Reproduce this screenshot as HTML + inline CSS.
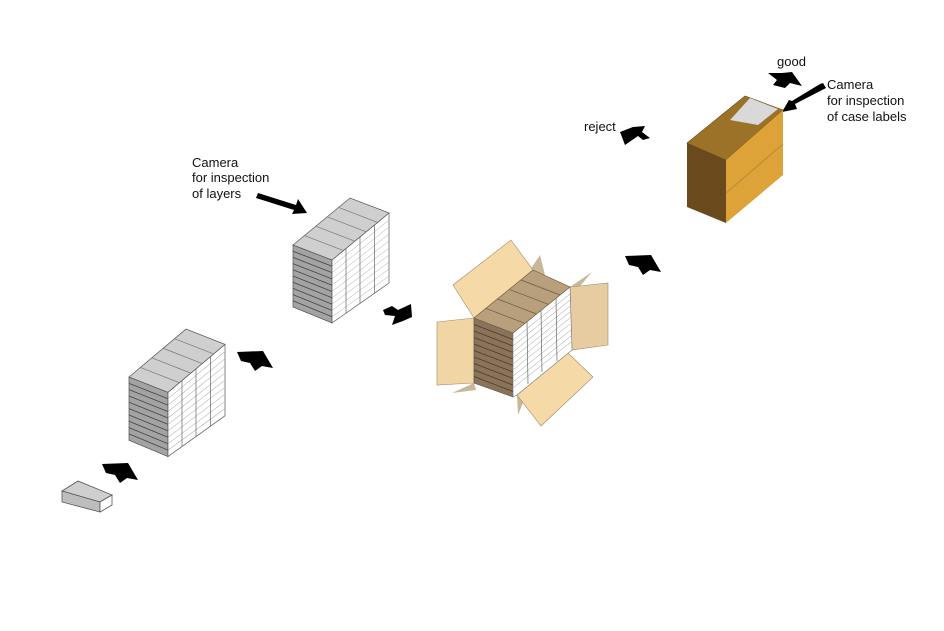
<!DOCTYPE html>
<html><head><style>
html,body{margin:0;padding:0;background:#fff;}
svg{display:block;}
text{font-family:"Liberation Sans",Arial,sans-serif;font-size:13px;fill:#111;}
</style></head><body>
<svg width="944" height="631" viewBox="0 0 944 631" xmlns="http://www.w3.org/2000/svg">
<defs>
<g id="stack">
  <polygon points="0,0 39,15 39,78 0,62" fill="#a3a3a3" stroke="#555" stroke-width="0.7"/>
  <g stroke="#444" stroke-width="0.8">
    <line x1="0" y1="6.2" x2="39" y2="21.3"/><line x1="0" y1="12.4" x2="39" y2="27.6"/>
    <line x1="0" y1="18.6" x2="39" y2="33.9"/><line x1="0" y1="24.8" x2="39" y2="40.2"/>
    <line x1="0" y1="31" x2="39" y2="46.5"/><line x1="0" y1="37.2" x2="39" y2="52.8"/>
    <line x1="0" y1="43.4" x2="39" y2="59.1"/><line x1="0" y1="49.6" x2="39" y2="65.4"/>
    <line x1="0" y1="55.8" x2="39" y2="71.7"/>
  </g>
  <polygon points="39,15 96,-32 96,38 39,78" fill="#fff" stroke="#555" stroke-width="0.7"/>
  <g stroke="#aaa" stroke-width="0.5">
    <line x1="39" y1="21.3" x2="96" y2="-25"/><line x1="39" y1="27.6" x2="96" y2="-18"/>
    <line x1="39" y1="33.9" x2="96" y2="-11"/><line x1="39" y1="40.2" x2="96" y2="-4"/>
    <line x1="39" y1="46.5" x2="96" y2="3"/><line x1="39" y1="52.8" x2="96" y2="10"/>
    <line x1="39" y1="59.1" x2="96" y2="17"/><line x1="39" y1="65.4" x2="96" y2="24"/>
    <line x1="39" y1="71.7" x2="96" y2="31"/>
  </g>
  <g stroke="#666" stroke-width="0.7">
    <line x1="53" y1="3.3" x2="53" y2="68"/><line x1="67" y1="-8.3" x2="67" y2="58"/>
    <line x1="81.5" y1="-20" x2="81.5" y2="48.5"/>
  </g>
  <polygon points="0,0 57,-47 96,-32 39,15" fill="#cfcfcf" stroke="#555" stroke-width="0.7"/>
  <g stroke="#777" stroke-width="0.7">
    <line x1="11.4" y1="-9.4" x2="50.4" y2="5.6"/><line x1="22.8" y1="-18.8" x2="61.8" y2="-3.8"/>
    <line x1="34.2" y1="-28.2" x2="73.2" y2="-13.2"/><line x1="45.6" y1="-37.6" x2="84.6" y2="-22.6"/>
  </g>
</g>
<polygon id="arr" points="0,0 26,-1 36,16 25,14 18,19 13,11 4,9"/>
</defs>

<polygon points="62,491 78,481 112,495 100,502" fill="#cfcfcf" stroke="#555" stroke-width="0.8"/>
<polygon points="62,491 100,502 100,512 62,502" fill="#bdbdbd" stroke="#555" stroke-width="0.8"/>
<polygon points="100,502 112,495 112,505 100,512" fill="#fff" stroke="#555" stroke-width="0.8"/>

<use href="#stack" transform="translate(129,377) scale(1.0,1.02)"/>
<use href="#stack" transform="translate(293,245)"/>

<g fill="#000">
  <use href="#arr" transform="translate(102,464)"/>
  <use href="#arr" transform="translate(237,352)"/>
  <use href="#arr" transform="translate(625,256)"/>
  <polygon points="383,310 392,306 398,310 411,304 412,317 403,321 392,325 395,316 385,315"/>
  <polygon points="620,132 633,127 645,126 642,132 650,138 643,140 638,136 625,145"/>
  <polygon points="768,73 782,73 792,72 802,86 790,83 785,88 773,85 777,80"/>
  <polygon points="258,193 296,205 298,199 307,213 292,214 294,210 256,198"/>
  <polygon points="823,83 826,88 795,104 797,109 782,112 789,100 792,101 820,84"/>
</g>

<text x="192" y="167">Camera</text>
<text x="192" y="182">for inspection</text>
<text x="192" y="198">of layers</text>
<text x="777" y="66">good</text>
<text x="827" y="89">Camera</text>
<text x="827" y="105">for inspection</text>
<text x="827" y="121">of case labels</text>
<text x="584" y="131">reject</text>

<g stroke-width="0.6" stroke="#a08c6c">
  <polygon points="530,270 540,255 545,275" fill="#c8b89a" stroke="none"/>
  <polygon points="570,287 592,272 575,292" fill="#c8b89a" stroke="none"/>
  <polygon points="474,383 452,393 476,390" fill="#c8b89a" stroke="none"/>
  <polygon points="517,395 518,415 525,398" fill="#c8b89a" stroke="none"/>
  <polygon points="474,318 453,285 511,240 533,270" fill="#f5d9a6"/>
  <polygon points="474,318 437,322 437,385 474,383" fill="#f1d5a4"/>
  <polygon points="570,287 608,283 608,345 572,350" fill="#e6cca0"/>
  <polygon points="517,395 567,352 593,377 541,426" fill="#f5d9a6"/>
  <polygon points="474,318 513,333 513,397 474,383" fill="#8a7358" stroke="#555"/>
  <g stroke="#4a3c2c" stroke-width="0.8">
    <line x1="474" y1="324.5" x2="513" y2="339.5"/><line x1="474" y1="331" x2="513" y2="346"/>
    <line x1="474" y1="337.5" x2="513" y2="352.5"/><line x1="474" y1="344" x2="513" y2="359"/>
    <line x1="474" y1="350.5" x2="513" y2="365.5"/><line x1="474" y1="357" x2="513" y2="372"/>
    <line x1="474" y1="363.5" x2="513" y2="378.5"/><line x1="474" y1="370" x2="513" y2="385"/>
    <line x1="474" y1="376.5" x2="513" y2="391.5"/>
  </g>
  <polygon points="513,333 570,287 572,350 517,395 513,397" fill="#fff" stroke="#777"/>
  <g stroke="#999" stroke-width="0.5">
    <line x1="513" y1="340" x2="570" y2="294"/><line x1="513" y1="346" x2="570" y2="300"/>
    <line x1="513" y1="352" x2="570" y2="306"/><line x1="513" y1="358" x2="570" y2="312"/>
    <line x1="513" y1="364" x2="570" y2="318"/><line x1="513" y1="370" x2="570" y2="324"/>
    <line x1="513" y1="376" x2="571" y2="330"/><line x1="513" y1="382" x2="571" y2="336"/>
    <line x1="513" y1="388" x2="571" y2="342"/>
  </g>
  <g stroke="#666" stroke-width="0.7">
    <line x1="527" y1="321.5" x2="528" y2="384"/><line x1="541" y1="310" x2="542" y2="372"/>
    <line x1="556" y1="298" x2="557" y2="361"/>
  </g>
  <polygon points="474,318 533,270 570,287 513,333" fill="#b8a07c" stroke="#6e5a40"/>
  <g stroke="#6e5a40" stroke-width="0.7">
    <line x1="486" y1="308.4" x2="525" y2="323.4"/><line x1="497.5" y1="299" x2="536.5" y2="314"/>
    <line x1="509.5" y1="289.4" x2="548.5" y2="304.4"/><line x1="521" y1="280" x2="560" y2="295"/>
  </g>
</g>

<polygon points="687,143 745,96 783,110 726,160" fill="#9c7228" stroke="#6b4a18" stroke-width="0.6"/>
<polygon points="730,120 750,98 778,109 758,125" fill="#d9d9d9"/>
<polygon points="687,143 726,160 726,223 687,207" fill="#6a4a1c"/>
<polygon points="726,160 783,110 783,175 726,223" fill="#dda238"/>
<line x1="726" y1="193" x2="783" y2="144" stroke="#b88a3a" stroke-width="1"/>
</svg>
</body></html>
